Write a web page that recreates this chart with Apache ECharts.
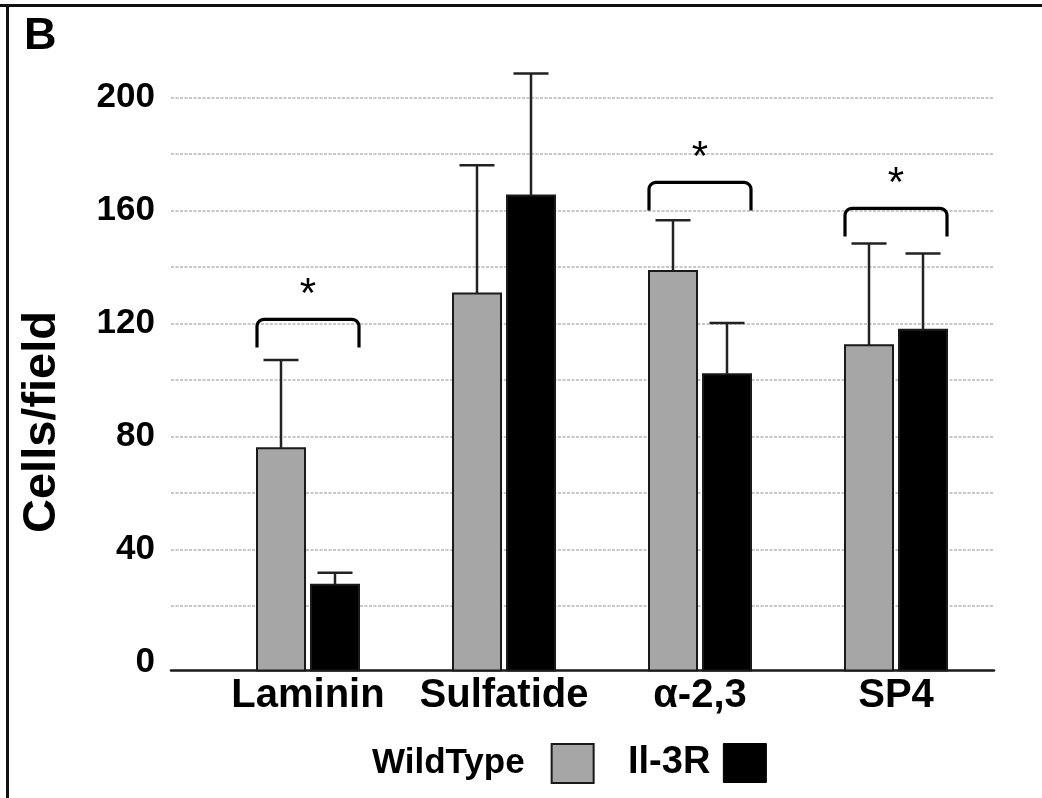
<!DOCTYPE html>
<html><head><meta charset="utf-8">
<script src="https://cdn.jsdelivr.net/npm/echarts@6/dist/echarts.min.js"></script>
<style>html,body{margin:0;padding:0;background:#fff}#c{width:1042px;height:798px}</style>
</head><body><div id="c"></div>
<script>
// ---- data ----
const categories = ['Laminin', 'Sulfatide', 'α-2,3', 'SP4'];
const wildTypeMean = [75.9, 130.7, 138.6, 112.4];
const wildTypeError = [31.2, 45.4, 18.0, 36.0];
const il3rMean = [27.6, 165.4, 102.1, 117.8];
const il3rError = [4.2, 43.2, 18.1, 27.0];
const bracketLevel = [121.5, null, 170.0, 160.8];
const yLabelValues = [0, 40, 80, 120, 160, 200];
const seriesNames = ['WildType', 'Il-3R'];

// ---- style ----
const FONT = "'Liberation Sans', Arial, Helvetica, sans-serif";
const BAR_W = 48, GAP = 6, CAP = 35, LEG = 28, STAR_OFF = 24, AXIS_OFFSET = 8;
const GRAY = '#a6a6a6', BLACK = '#000000', EDGE = '#1a1a1a';

function makeBarRender(side, fill) {
  return function (params, api) {
    const i = api.value(0), v = api.value(1), e = api.value(2);
    const zero = api.coord([i, 0]);
    const cx = zero[0];
    const base = zero[1] + AXIS_OFFSET;
    const top = api.coord([i, v])[1];
    const errTop = api.coord([i, v + e])[1];
    const x0 = side < 0 ? cx - GAP / 2 - BAR_W : cx + GAP / 2;
    const xm = x0 + BAR_W / 2;
    return { type: 'group', children: [
      { type: 'rect', shape: { x: x0, y: top, width: BAR_W, height: base - top },
        style: { fill: fill, stroke: EDGE, lineWidth: 2 } },
      { type: 'line', shape: { x1: xm, y1: top, x2: xm, y2: errTop },
        style: { stroke: '#222', lineWidth: 2.5 } },
      { type: 'line', shape: { x1: xm - CAP / 2, y1: errTop, x2: xm + CAP / 2, y2: errTop },
        style: { stroke: '#222', lineWidth: 2.5 } }
    ]};
  };
}

function bracketRender(params, api) {
  const i = api.value(0), lvl = api.value(1);
  const p = api.coord([i, lvl]);
  const x0 = p[0] - GAP / 2 - BAR_W, x1 = p[0] + GAP / 2 + BAR_W, y = p[1];
  const r = 7, n = 8;
  const pts = [[x0, y + LEG]];
  for (let k = 0; k <= n; k++) {
    const a = Math.PI + k * (Math.PI / 2) / n;
    pts.push([x0 + r + r * Math.cos(a), y + r + r * Math.sin(a)]);
  }
  for (let k = 0; k <= n; k++) {
    const a = 1.5 * Math.PI + k * (Math.PI / 2) / n;
    pts.push([x1 - r + r * Math.cos(a), y + r + r * Math.sin(a)]);
  }
  pts.push([x1, y + LEG]);
  return { type: 'group', children: [
    { type: 'polyline', shape: { points: pts },
      style: { stroke: '#000', lineWidth: 3.2, fill: null, lineJoin: 'round' } },
    { type: 'text', style: { text: '*', x: (x0 + x1) / 2, y: y - STAR_OFF,
      align: 'center', verticalAlign: 'middle', font: '42px ' + FONT, fill: '#000' } }
  ]};
}

const gridTop = 97.7, gridBottom = 135.4;

const option = {
  backgroundColor: '#ffffff',
  animation: false,
  textStyle: { fontFamily: FONT },
  grid: [
    { left: 171, right: 48, top: gridTop, bottom: gridBottom },
    { left: 210, right: 48, top: gridTop, bottom: gridBottom }
  ],
  xAxis: [
    { gridIndex: 0, type: 'category', data: [''], offset: AXIS_OFFSET,
      axisLine: { show: true, onZero: false, lineStyle: { color: '#1a1a1a', width: 2.5 } },
      axisTick: { show: false }, axisLabel: { show: false }, splitLine: { show: false } },
    { gridIndex: 1, type: 'category', data: categories, offset: AXIS_OFFSET,
      axisLine: { show: false }, axisTick: { show: false },
      axisLabel: { color: '#000', fontSize: 40, fontWeight: 'bold', fontFamily: FONT,
        margin: 25, verticalAlign: 'middle', interval: 0 } }
  ],
  yAxis: [
    { gridIndex: 0, type: 'value', min: 0, max: 200, interval: 20,
      axisLine: { show: false }, axisTick: { show: false },
      axisLabel: { color: '#000', fontSize: 35, fontWeight: 'bold', fontFamily: FONT, margin: 16,
        padding: [0, 0, 4, 0],
        formatter: v => yLabelValues.includes(v) ? String(v) : '' },
      splitLine: { show: true, showMinLine: false,
        lineStyle: { color: '#c8c8c8', width: 2, type: [3, 1.5] } } },
    { gridIndex: 1, type: 'value', min: 0, max: 200, show: false }
  ],
  legend: [
    { data: [{ name: seriesNames[0], icon: 'rect', itemStyle: { color: GRAY, borderColor: EDGE, borderWidth: 2 } }],
      left: 372, top: 743, padding: 0, itemWidth: 42, itemHeight: 39, align: 'right', selectedMode: false,
      textStyle: { fontSize: 35, fontWeight: 'bold', color: '#000', fontFamily: FONT, padding: [0, 22, 0, 0] } },
    { data: [{ name: seriesNames[1], icon: 'rect', itemStyle: { color: BLACK, borderColor: '#000', borderWidth: 1 } }],
      left: 628, top: 743, padding: 0, itemWidth: 43, itemHeight: 39, align: 'right', selectedMode: false,
      textStyle: { fontSize: 38, fontWeight: 'bold', color: '#000', fontFamily: FONT, padding: [0, 8, 0, 0] } }
  ],
  graphic: [
    { type: 'line', shape: { x1: 0, y1: 5.5, x2: 1042, y2: 5.5 }, style: { stroke: '#111', lineWidth: 3 } },
    { type: 'line', shape: { x1: 7.5, y1: 4, x2: 7.5, y2: 798 }, style: { stroke: '#111', lineWidth: 3 } },
    { type: 'text', left: 24, top: 14, style: { text: 'B', font: 'bold 45px ' + FONT, fill: '#000' } },
    { type: 'text', x: 42, y: 422, rotation: Math.PI / 2,
      style: { text: 'Cells/field', font: 'bold 47px ' + FONT, fill: '#000', align: 'center', verticalAlign: 'middle' } }
  ],
  series: [
    { name: seriesNames[0], type: 'custom', xAxisIndex: 1, yAxisIndex: 1, clip: false,
      itemStyle: { color: GRAY },
      renderItem: makeBarRender(-1, GRAY),
      data: categories.map((c, i) => [i, wildTypeMean[i], wildTypeError[i]]) },
    { name: seriesNames[1], type: 'custom', xAxisIndex: 1, yAxisIndex: 1, clip: false,
      itemStyle: { color: BLACK },
      renderItem: makeBarRender(1, BLACK),
      data: categories.map((c, i) => [i, il3rMean[i], il3rError[i]]) },
    { name: 'brackets', type: 'custom', xAxisIndex: 1, yAxisIndex: 1, clip: false,
      renderItem: bracketRender,
      data: bracketLevel.map((b, i) => b == null ? null : [i, b]).filter(Boolean) }
  ]
};

const chart = echarts.init(document.getElementById('c'), null, { renderer: 'canvas' });
chart.setOption(option);
</script>
</body></html>
